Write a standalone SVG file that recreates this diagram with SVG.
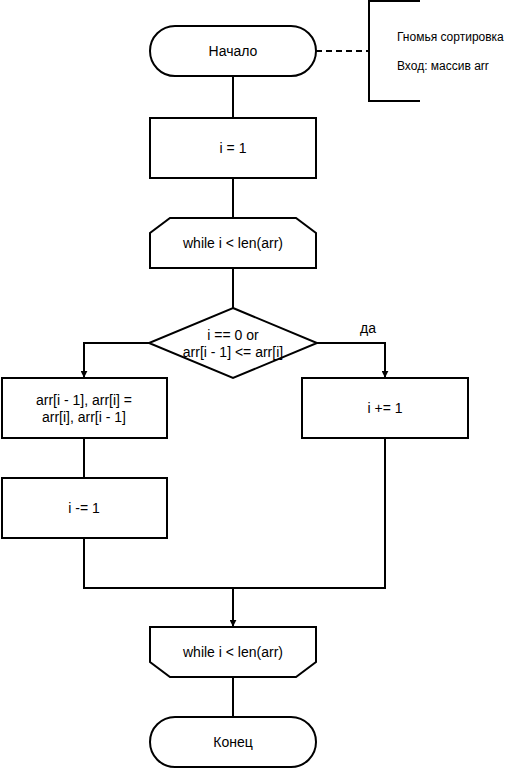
<svg xmlns="http://www.w3.org/2000/svg" width="505" height="768" viewBox="0 0 505 768">
<defs>
<marker id="arr" viewBox="0 0 10 10" refX="9" refY="5" markerWidth="7" markerHeight="7" markerUnits="userSpaceOnUse" orient="auto">
<path d="M0,0 L10,5 L0,10 z" fill="#000"/>
</marker>
<style>
.s{fill:#fff;stroke:#000;stroke-width:2}
.c{fill:none;stroke:#000;stroke-width:2}
.t{font-family:"Liberation Sans",Arial,sans-serif;font-size:14px;fill:#000;text-anchor:middle;dominant-baseline:central}
.a{font-family:"Liberation Sans",Arial,sans-serif;font-size:12px;fill:#000}
</style>
</defs>
<rect width="505" height="768" fill="#fff"/>
<g id="connectors">
<path class="c" d="M233,76 V118"/>
<path class="c" d="M233,178 V218"/>
<path class="c" d="M233,268 V308"/>
<path class="c" d="M149,343 H84 V377" marker-end="url(#arr)"/>
<path class="c" d="M317,343 H385 V377" marker-end="url(#arr)"/>
<path class="c" d="M84,438 V478"/>
<path class="c" d="M84,538 V588 H385 V438"/>
<path class="c" d="M233,588 V626" marker-end="url(#arr)"/>
<path class="c" d="M233,677 V717"/>
<path class="c" d="M316,51 H369" stroke-dasharray="6,4"/>
<text class="t" x="368" y="328">да</text>
</g>
<g id="start">
<rect class="s" x="150" y="26" width="166" height="50" rx="25" ry="25"/>
<text class="t" x="233" y="51">Начало</text>
</g>
<g id="note">
<path class="c" d="M420,1 H369 V101 H420"/>
<text class="a" x="397" y="41">Гномья сортировка</text>
<text class="a" x="397" y="70">Вход: массив arr</text>
</g>
<g id="init">
<rect class="s" x="150" y="118" width="166" height="60"/>
<text class="t" x="233" y="148">i = 1</text>
</g>
<g id="loopstart">
<path class="s" d="M170,218 H296 L316,233 V268 H150 V233 Z"/>
<text class="t" x="233" y="243">while i &lt; len(arr)</text>
</g>
<g id="cond">
<path class="s" d="M233,308 L317,343 L233,378 L149,343 Z"/>
<text class="t" x="233" y="335">i == 0 or</text>
<text class="t" x="233" y="352">arr[i - 1] &lt;= arr[i]</text>
</g>
<g id="swap">
<rect class="s" x="2" y="378" width="165" height="60"/>
<text class="t" x="84" y="400">arr[i - 1], arr[i] =</text>
<text class="t" x="84" y="417">arr[i], arr[i - 1]</text>
</g>
<g id="inc">
<rect class="s" x="302" y="378" width="166" height="60"/>
<text class="t" x="385" y="408">i += 1</text>
</g>
<g id="dec">
<rect class="s" x="2" y="478" width="165" height="60"/>
<text class="t" x="84" y="508">i -= 1</text>
</g>
<g id="loopend">
<path class="s" d="M150,627 H316 V662 L296,677 H170 L150,662 Z"/>
<text class="t" x="233" y="652">while i &lt; len(arr)</text>
</g>
<g id="end">
<rect class="s" x="150" y="717" width="166" height="50" rx="25" ry="25"/>
<text class="t" x="233" y="742">Конец</text>
</g>
</svg>
